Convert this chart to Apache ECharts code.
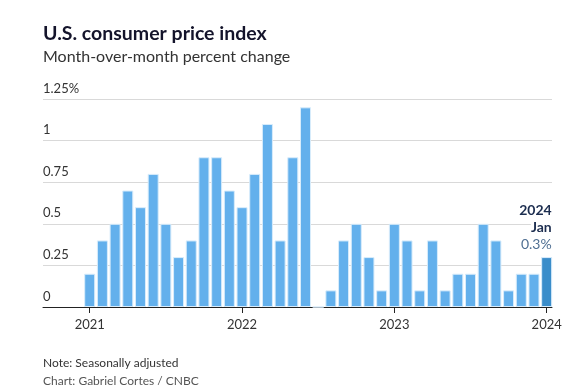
<!DOCTYPE html>
<html>
<head>
<meta charset="utf-8">
<script src="https://cdn.jsdelivr.net/npm/echarts@6/dist/echarts.min.js"></script>
<style>
html,body{margin:0;padding:0;background:#fff;}
#c{width:577px;height:386px;}
</style>
</head>
<body>
<div id="c"></div>
<script>
// Months (Jan 2021 .. Jan 2024)
var months = [
 '2021-01','2021-02','2021-03','2021-04','2021-05','2021-06','2021-07','2021-08','2021-09','2021-10','2021-11','2021-12',
 '2022-01','2022-02','2022-03','2022-04','2022-05','2022-06','2022-07','2022-08','2022-09','2022-10','2022-11','2022-12',
 '2023-01','2023-02','2023-03','2023-04','2023-05','2023-06','2023-07','2023-08','2023-09','2023-10','2023-11','2023-12',
 '2024-01'
];
var cpiValues = [
 0.2,0.4,0.5,0.7,0.6,0.8,0.5,0.3,0.4,0.9,0.9,0.7,
 0.6,0.8,1.1,0.4,0.9,1.2,0.0,0.1,0.4,0.5,0.3,0.1,
 0.5,0.4,0.1,0.4,0.1,0.2,0.2,0.5,0.4,0.1,0.2,0.2,
 0.3
];
var yearTicks = ['2021','2022','2023','2024'];
var yTicks = [0,0.25,0.5,0.75,1,1.25];

function monthIndex(s){
  var p = s.split('-'), b = months[0].split('-');
  return (+p[0]-(+b[0]))*12 + (+p[1]-(+b[1]));
}
var yearPos = yearTicks.map(function(y){return monthIndex(y+'-01');});
var lastIdx = months.length-1;
var monthNames = ['Jan','Feb','Mar','Apr','May','Jun','Jul','Aug','Sep','Oct','Nov','Dec'];

var data = months.map(function(m,i){
  var item = {value:[monthIndex(m), cpiValues[i]]};
  if(i===lastIdx){
    var p = m.split('-');
    item.itemStyle = {color:'#3a8dca'};
    item.label = {
      show:true, position:'top', distance:4, align:'right', offset:[5,0],
      formatter: '{a|'+p[0]+'}\n{b|'+monthNames[+p[1]-1]+'}\n{c|'+cpiValues[i]+'%}',
      rich:{
        a:{fontFamily:'Lato',fontWeight:'bold',fontSize:14,color:'#1c2d4f',lineHeight:17,align:'right'},
        b:{fontFamily:'Lato',fontWeight:'bold',fontSize:14,color:'#1c2d4f',lineHeight:17,align:'right',backgroundColor:'#fff'},
        c:{fontFamily:'Lato',fontSize:14,color:'#4f6f92',lineHeight:17,align:'right'}
      }
    };
  }
  return item;
});

var chart = echarts.init(document.getElementById('c'), null, {renderer:'canvas'});
chart.setOption({
  animation:false,
  backgroundColor:'#fff',
  title:[
    {text:'U.S. consumer price index', left:43, top:24, padding:0, textStyle:{fontFamily:'Lato',fontWeight:'bold',fontSize:19.5,color:'#14142b'}},
    {text:'Month-over-month percent change', left:43, top:49, padding:0, textStyle:{fontFamily:'Lato',fontWeight:'normal',fontSize:16,color:'#333'}},
    {text:'Note: Seasonally adjusted', left:43, top:357, padding:0, textStyle:{fontFamily:'Lato',fontWeight:'normal',fontSize:12,color:'#333'}},
    {text:'Chart: Gabriel Cortes / CNBC', left:43, top:375, padding:0, textStyle:{fontFamily:'Lato',fontWeight:'normal',fontSize:12,color:'#555'}}
  ],
  grid:{left:43, right:25, top:99, bottom:79, containLabel:false},
  xAxis:{
    type:'value', min:-3.68, max:36.42,
    splitLine:{show:false},
    axisLine:{show:true, lineStyle:{color:'#222',width:1}},
    axisTick:{show:true, length:6, lineStyle:{color:'#222'}, customValues:yearPos},
    axisLabel:{show:true, customValues:yearPos, margin:11, fontFamily:'Lato', fontSize:13, color:'#333',
      formatter:function(v){var k=yearPos.indexOf(Math.round(v)); return k>=0?yearTicks[k]:'';}}
  },
  yAxis:{
    type:'value', min:yTicks[0], max:yTicks[yTicks.length-1], interval:0.25,
    axisLine:{show:false}, axisTick:{show:false},
    splitLine:{show:true, lineStyle:{color:'#d9d9d9',width:1}},
    axisLabel:{inside:true, margin:0, align:'left', verticalAlign:'bottom', padding:[0,0,4,0],
      fontFamily:'Lato', fontSize:13, color:'#333',
      formatter:function(v){return v===yTicks[yTicks.length-1]? v+'%' : String(v);}}
  },
  series:[{
    type:'bar', data:data, barWidth:11,
    itemStyle:{color:'#63b0ec', borderColor:'#d8ecfb', borderWidth:1},
    z:2
  }]
});
</script>
</body>
</html>
